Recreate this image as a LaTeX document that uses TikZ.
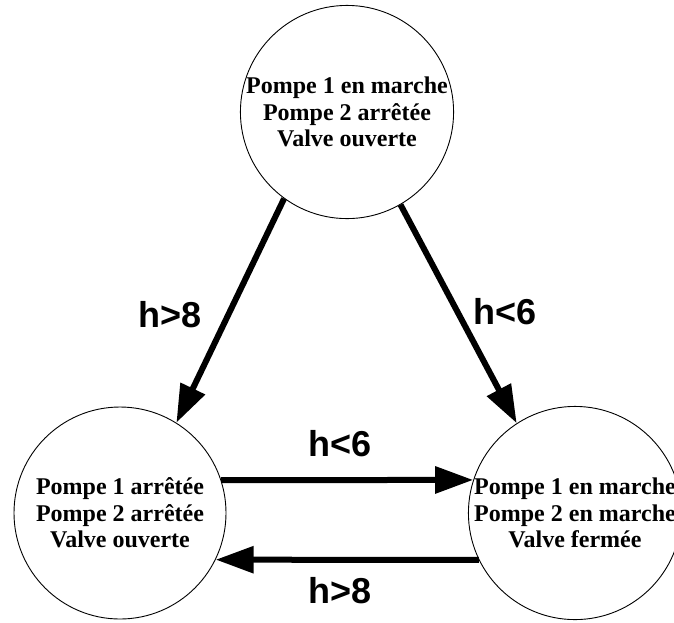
\documentclass[tikz,border=0pt]{standalone}
\usepackage{fontspec}
\setmainfont{Liberation Serif}
\setsansfont{Liberation Sans}
\usetikzlibrary{arrows.meta}
\tikzset{
  state/.style={circle, draw=black, line width=0.9pt, minimum size=212pt, inner sep=0pt, align=center,
    font=\bfseries\fontsize{24}{26.5}\selectfont},
  trans/.style={line width=6pt, -{Triangle[length=38pt,width=26pt]}},
  lbl/.style={font=\sffamily\bfseries\fontsize{36}{40}\selectfont, inner sep=0pt}
}
\begin{document}
\begin{tikzpicture}[x=1pt,y=-1pt]
\useasboundingbox (0,0) rectangle (674,622);
\clip (0,0) rectangle (674,622);
\node[state] (top) at (347,112) {Pompe 1 en marche\\Pompe 2 arrêtée\\Valve ouverte};
\node[state] (bl) at (120,513) {Pompe 1 arrêtée\\Pompe 2 arrêtée\\Valve ouverte};
\node[state] (br) at (575,513) {Pompe 1 en marche\\Pompe 2 en marche\\Valve fermée};
\draw[trans] (top.234) -- (bl.58);
\draw[trans] (top.300) -- (br.123);
\draw[trans] (bl.18) -- (br.162);
\draw[trans] (br.206) -- (bl.334);
\node[lbl] (l1) at (170,315) {h>8};
\node[lbl] (l2) at (505,312) {h<6};
\node[lbl] (l3) at (340,444) {h<6};
\node[lbl] (l4) at (340,591) {h>8};
\end{tikzpicture}
\end{document}
